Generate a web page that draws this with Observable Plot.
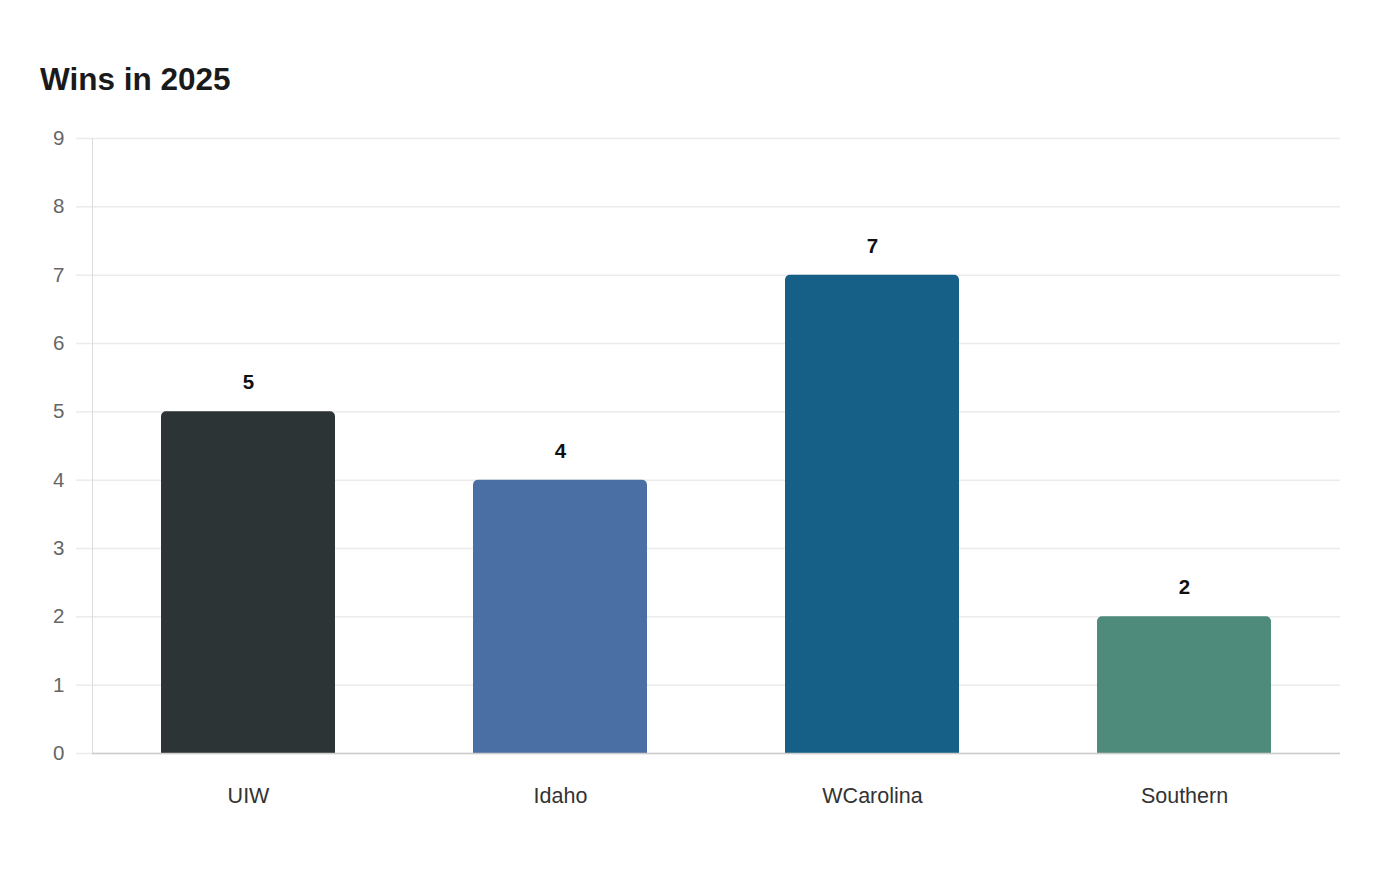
<!DOCTYPE html>
<html>
<head>
<meta charset="utf-8">
<script src="https://cdn.jsdelivr.net/npm/d3@7"></script>
<script src="https://cdn.jsdelivr.net/npm/@observablehq/plot@0.6"></script>
<style>
  html, body { margin: 0; padding: 0; background: #fff; }
  body { width: 1400px; height: 880px; overflow: hidden; font-family: "Liberation Sans", Arial, sans-serif; }
  #title { padding: 63px 0 0 40px; height: 32px; line-height: 32px; font-size: 31.5px; font-weight: bold; color: #1a1a1a; }
  #chart { margin-top: 15px; }
  #chart svg { display: block; }
</style>
</head>
<body>
<div id="title">Wins in 2025</div>
<div id="chart"></div>
<script>
const teams = ["UIW", "Idaho", "WCarolina", "Southern"];
const wins = [5, 4, 7, 2];
const colors = ["#2d3436", "#4a6fa5", "#166088", "#4f8b7a"];
const yTicks = [0, 1, 2, 3, 4, 5, 6, 7, 8, 9];

const data = teams.map((t, i) => ({team: t, wins: wins[i], color: colors[i]}));

const chart = Plot.plot({
  width: 1400,
  height: 723,
  marginTop: 28,
  marginBottom: 80,
  marginLeft: 92,
  marginRight: 60,
  style: {fontFamily: "'Liberation Sans', Arial, sans-serif", fontSize: "20px", background: "#fff"},
  x: {domain: teams, paddingInner: 0.442, paddingOuter: 0.221, label: null},
  y: {domain: [0, 9], label: null},
  marks: [
    Plot.gridY(yTicks, {stroke: "#ebebeb", strokeOpacity: 1, strokeWidth: 1.5}),
    Plot.axisY(yTicks, {tickSize: 16, tickPadding: 12, stroke: "#ebebeb", strokeWidth: 1.5, fill: "#666", fontSize: 20.5, label: null, tickFormat: d => String(d)}),
    Plot.frame({anchor: "left", stroke: "#dcdcdc", strokeDasharray: "1,1"}),
    Plot.barY(data, {x: "team", y: "wins", fill: "color", rx: 5}),
    Plot.barY(data, {x: "team", y1: 0, y2: d => d.wins * 0.5, fill: "color"}),
    Plot.ruleY([0], {stroke: "#cccccc", strokeWidth: 1.5}),
    Plot.axisX({tickSize: 0, tickPadding: 34, fill: "#333", fontSize: 21.5, label: null}),
    Plot.text(data, {x: "team", y: "wins", text: d => String(d.wins), dy: -29, fontSize: 20.5, fontWeight: "bold", fill: "#111"})
  ]
});
document.getElementById("chart").appendChild(chart);
</script>
</body>
</html>
